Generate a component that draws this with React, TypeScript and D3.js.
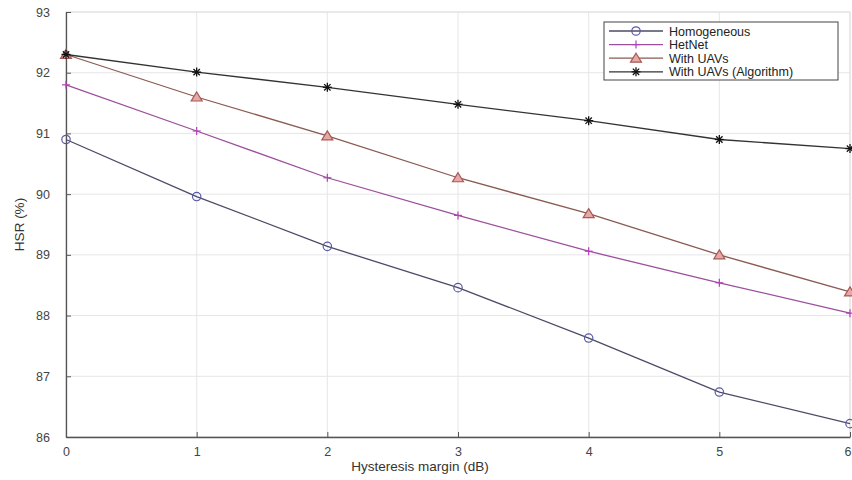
import React, { useEffect, useRef } from "react";
import * as d3 from "d3";

const margins = [0, 1, 2, 3, 4, 5, 6];
const homogeneous = [90.9, 89.96, 89.14, 88.46, 87.63, 86.74, 86.22];
const hetnet = [91.8, 91.04, 90.27, 89.65, 89.06, 88.54, 88.04];
const withUavs = [92.3, 91.6, 90.96, 90.27, 89.68, 89.0, 88.39];
const withUavsAlgo = [92.3, 92.01, 91.76, 91.48, 91.21, 90.9, 90.75];
const yTicks = [86, 87, 88, 89, 90, 91, 92, 93];
const seriesNames = ["Homogeneous", "HetNet", "With UAVs", "With UAVs (Algorithm)"];

const W = 852;
const H = 480;
const left = 66;
const right = 850;
const top = 12;
const bottom = 437;

const styles = [
  { line: "#4b4b66", marker: "circle", stroke: "#5a5aa6", fill: "none" },
  { line: "#9c4f9c", marker: "plus", stroke: "#b040b8", fill: "none" },
  { line: "#8a5a52", marker: "triangle", stroke: "#a45a55", fill: "#e8a8a8" },
  { line: "#333333", marker: "star", stroke: "#111111", fill: "none" },
];

function drawMarker(g, kind, x, y, st) {
  if (kind === "circle") {
    g.append("circle").attr("cx", x).attr("cy", y).attr("r", 4.2)
      .attr("fill", "none").attr("stroke", st.stroke).attr("stroke-width", 1.2);
  } else if (kind === "plus") {
    g.append("line").attr("x1", x - 4).attr("x2", x + 4).attr("y1", y).attr("y2", y)
      .attr("stroke", st.stroke).attr("stroke-width", 1.2);
    g.append("line").attr("x1", x).attr("x2", x).attr("y1", y - 4).attr("y2", y + 4)
      .attr("stroke", st.stroke).attr("stroke-width", 1.2);
  } else if (kind === "triangle") {
    g.append("path")
      .attr("d", `M${x},${y - 5}L${x + 5.5},${y + 4}L${x - 5.5},${y + 4}Z`)
      .attr("fill", st.fill).attr("stroke", st.stroke).attr("stroke-width", 1.2);
  } else {
    const r = 4.5;
    [0, 45, 90, 135].forEach((a) => {
      const rad = (a * Math.PI) / 180;
      g.append("line")
        .attr("x1", x - r * Math.cos(rad)).attr("x2", x + r * Math.cos(rad))
        .attr("y1", y - r * Math.sin(rad)).attr("y2", y + r * Math.sin(rad))
        .attr("stroke", st.stroke).attr("stroke-width", 1.3);
    });
  }
}

const App = () => {
  const svgRef = useRef(null);

  useEffect(() => {
    const svg = d3.select(svgRef.current);
    svg.selectAll("*").remove();

    const x = d3.scaleLinear().domain([0, 6]).range([left, right]);
    const y = d3.scaleLinear().domain([86, 93]).range([bottom, top]);
    const font = "Liberation Sans, Arial, sans-serif";

    svg.append("rect").attr("width", W).attr("height", H).attr("fill", "#fff");

    // grid
    const grid = svg.append("g");
    margins.forEach((m) => {
      grid.append("line").attr("x1", x(m)).attr("x2", x(m)).attr("y1", top).attr("y2", bottom)
        .attr("stroke", "#e6e6ea").attr("stroke-width", 1);
    });
    yTicks.forEach((t) => {
      grid.append("line").attr("x1", left).attr("x2", right).attr("y1", y(t)).attr("y2", y(t))
        .attr("stroke", "#e6e6ea").attr("stroke-width", 1);
    });

    // frame
    svg.append("rect").attr("x", left).attr("y", top).attr("width", right - left)
      .attr("height", bottom - top).attr("fill", "none").attr("stroke", "#e0e0e0");

    const xAxis = d3.axisBottom(x).tickValues(margins).tickSize(-5).tickSizeOuter(0)
      .tickPadding(10).tickFormat(d3.format("d"));
    const gx = svg.append("g").attr("transform", `translate(0,${bottom})`).call(xAxis);
    const yAxis = d3.axisLeft(y).tickValues(yTicks).tickSize(-5).tickSizeOuter(0)
      .tickPadding(16).tickFormat(d3.format("d"));
    const gy = svg.append("g").attr("transform", `translate(${left},0)`).call(yAxis);
    [gx, gy].forEach((g) => {
      g.select(".domain").attr("stroke", "#555").attr("stroke-width", 1.3);
      g.selectAll(".tick line").attr("stroke", "#555");
      g.selectAll("text").attr("fill", "#444").attr("font-size", 12.5).attr("font-family", font);
    });
    // last x label sits on the right edge; nudge it so it stays in view
    gx.selectAll(".tick text").filter((d) => d === 6).attr("dx", -2.5);

    svg.append("text").attr("x", 420).attr("y", 471).attr("text-anchor", "middle")
      .attr("font-size", 13.5).attr("font-family", font).attr("fill", "#333")
      .text("Hysteresis margin (dB)");
    svg.append("text").attr("transform", `translate(24,${(top + bottom) / 2}) rotate(-90)`)
      .attr("text-anchor", "middle").attr("font-size", 13.5).attr("font-family", font)
      .attr("fill", "#333").text("HSR (%)");

    const allSeries = [homogeneous, hetnet, withUavs, withUavsAlgo];
    const line = d3.line().x((d, i) => x(margins[i])).y((d) => y(d));

    allSeries.forEach((vals, k) => {
      const st = styles[k];
      const g = svg.append("g");
      g.append("path").datum(vals).attr("d", line).attr("fill", "none")
        .attr("stroke", st.line).attr("stroke-width", 1.3);
      vals.forEach((v, i) => drawMarker(g, st.marker, x(margins[i]), y(v), st));
    });

    // legend
    const lg = svg.append("g");
    lg.append("rect").attr("x", 604).attr("y", 22).attr("width", 234).attr("height", 58)
      .attr("fill", "#fff").attr("stroke", "#444").attr("stroke-width", 1);
    seriesNames.forEach((name, k) => {
      const st = styles[k];
      const ly = 31 + k * 13.6;
      lg.append("line").attr("x1", 609).attr("x2", 663).attr("y1", ly).attr("y2", ly)
        .attr("stroke", st.line).attr("stroke-width", 1.3);
      drawMarker(lg, st.marker, 636, ly, st);
      lg.append("text").attr("x", 669).attr("y", ly + 4.5).attr("font-size", 12.5)
        .attr("font-family", font).attr("fill", "#222").text(name);
    });
  }, []);

  return (
    <svg
      ref={svgRef}
      width={W}
      height={H}
      style={{ position: "absolute", left: 0, top: 0, display: "block" }}
    />
  );
};

export default App;
